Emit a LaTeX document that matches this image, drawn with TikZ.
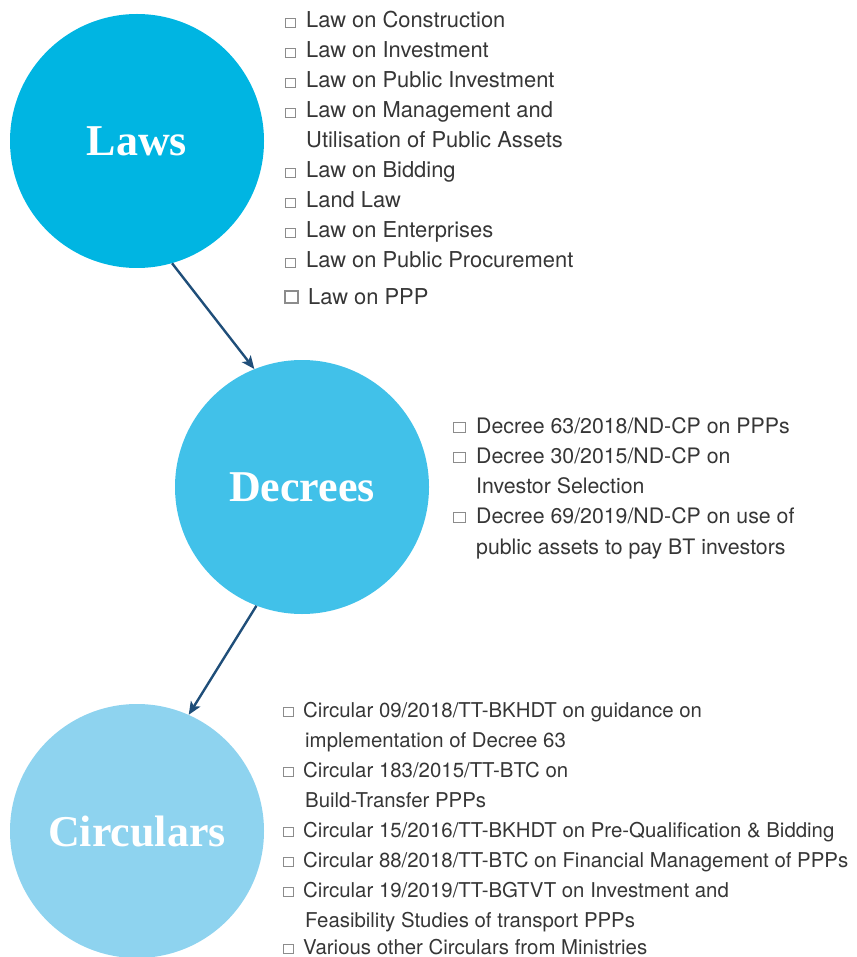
\documentclass[tikz,border=0pt]{standalone}
\usepackage{fontspec}
\setmainfont{TeX Gyre Heros}
\newfontfamily\headfont{Liberation Serif}
\usetikzlibrary{arrows.meta}

\definecolor{lawblue}{HTML}{00B5E2}
\definecolor{decblue}{HTML}{41C1E9}
\definecolor{cirblue}{HTML}{8ED3EF}
\definecolor{arrownavy}{HTML}{1F4E79}
\definecolor{bodytext}{HTML}{363636}
\definecolor{boxgray}{HTML}{8C8C8C}

\tikzset{
  stage/.style={circle, minimum size=254pt, inner sep=0pt, text=white,
    font=\headfont\bfseries\fontsize{44}{48}\selectfont},
  entry/.style={anchor=base west, inner sep=0pt, text=bodytext},
  lawentry/.style={entry, font=\fontsize{21.9}{26}\selectfont},
  decentry/.style={entry, font=\fontsize{21.3}{26}\selectfont},
  cirentry/.style={entry, font=\fontsize{20.4}{26}\selectfont},
  tick/.style={draw=boxgray, line width=1.2pt, fill=white, inner sep=0pt,
    minimum width=10pt, minimum height=9pt, anchor=south west},
  flow/.style={draw=arrownavy, line width=2.4pt,
    -{Stealth[length=13pt,width=11pt,inset=3pt]}}
}

\begin{document}
\begin{tikzpicture}[x=1pt, y=-1pt]
  \useasboundingbox (0,0) rectangle (856,957);
  \clip (0,0) rectangle (856,957);

  % the three stages
  \node[stage, fill=lawblue] (laws) at (137,141) {Laws};
  \node[stage, fill=decblue] (decrees) at (302,487) {Decrees};
  \node[stage, fill=cirblue] (circulars) at (137,831) {Circulars};

  \draw[flow] (laws.-74) -- (decrees.112);
  \draw[flow] (decrees.249) -- (circulars.66);

  % laws
  \node[lawentry] (l1) at (306,28) {Law on Construction};
  \node[lawentry] (l2) at (306,58) {Law on Investment};
  \node[lawentry] (l3) at (306,88) {Law on Public Investment};
  \node[lawentry] (l4) at (306,118) {Law on Management and};
  \node[lawentry] (l4b) at (306,148) {Utilisation of Public Assets};
  \node[lawentry] (l5) at (306,178) {Law on Bidding};
  \node[lawentry] (l6) at (306,208) {Land Law};
  \node[lawentry] (l7) at (306,238) {Law on Enterprises};
  \node[lawentry] (l8) at (306,268) {Law on Public Procurement};
  \node[lawentry] (l9) at (308,304) {Law on PPP};
  \foreach \n in {l1,l2,l3,l4,l5,l6,l7,l8}
    \node[tick] (b\n) at ([xshift=-21pt]\n.base west) {};
  \node[tick, minimum width=13pt, minimum height=12pt, line width=1.6pt]
    (bl9) at ([xshift=-24pt]l9.base west) {};

  % decrees
  \node[decentry] (d1) at (476,433) {Decree 63/2018/ND-CP on PPPs};
  \node[decentry] (d2) at (476,463) {Decree 30/2015/ND-CP on};
  \node[decentry] (d2b) at (476,493) {Investor Selection};
  \node[decentry] (d3) at (476,523) {Decree 69/2019/ND-CP on use of};
  \node[decentry] (d3b) at (476,554) {public assets to pay BT investors};
  \foreach \n in {d1,d2,d3}
    \node[tick, minimum width=12pt, minimum height=10pt] (b\n) at ([xshift=-23pt]\n.base west) {};

  % circulars
  \node[cirentry] (c1) at (303,717) {Circular 09/2018/TT-BKHDT on guidance on};
  \node[cirentry] (c1b) at (305,747) {implementation of Decree 63};
  \node[cirentry] (c2) at (303,777) {Circular 183/2015/TT-BTC on};
  \node[cirentry] (c2b) at (305,807) {Build-Transfer PPPs};
  \node[cirentry] (c3) at (303,837) {Circular 15/2016/TT-BKHDT on Pre-Qualification \& Bidding};
  \node[cirentry] (c4) at (303,867) {Circular 88/2018/TT-BTC on Financial Management of PPPs};
  \node[cirentry] (c5) at (303,897) {Circular 19/2019/TT-BGTVT on Investment and};
  \node[cirentry] (c5b) at (305,927) {Feasibility Studies of transport PPPs};
  \node[cirentry] (c6) at (303,954) {Various other Circulars from Ministries};
  \foreach \n in {c1,c2,c3,c4,c5,c6}
    \node[tick] (b\n) at ([xshift=-20pt]\n.base west) {};
\end{tikzpicture}
\end{document}
